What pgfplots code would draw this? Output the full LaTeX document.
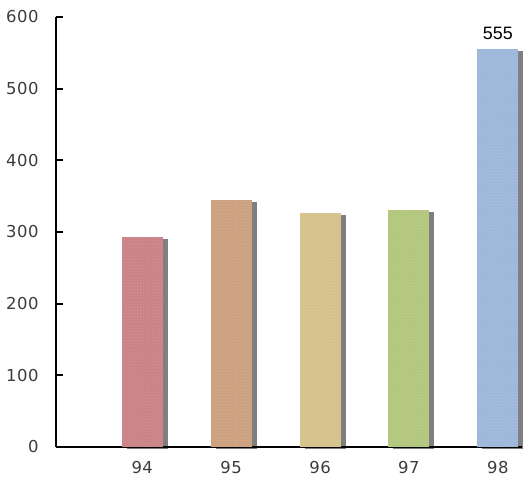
\documentclass[border=0pt]{standalone}
\usepackage{fontspec}
\setmainfont{Liberation Sans}
\newfontfamily\tickfont[LetterSpace=3]{DejaVu Sans}
\usepackage{pgfplots}
\pgfplotsset{compat=1.18}
\usetikzlibrary{shadows,patterns}
\definecolor{c94}{RGB}{202,130,134}
\definecolor{c95}{RGB}{204,160,126}
\definecolor{c96}{RGB}{214,193,138}
\definecolor{c97}{RGB}{178,199,124}
\definecolor{c98}{RGB}{156,183,218}
\definecolor{tl}{RGB}{60,60,60}
\begin{document}
\begin{tikzpicture}
\begin{axis}[
  scale only axis,
  width=466bp, height=430bp,
  xmin=93.03, xmax=98.27,
  ymin=0, ymax=600,
  ytick={0,100,...,600},
  xtick={94,95,96,97,98},
  axis lines=left,
  axis line style={-, line width=2.4pt, black},
  ytick style={line width=2pt, black},
  xtick style={draw=none},
  major tick length=7bp,
  tick align=inside,
  ybar, bar width=41bp, bar shift=0pt,
  clip=false,
  ticklabel style={font=\tickfont\fontsize{16.5}{18}\selectfont, text=tl},
  yticklabel style={xshift=-14bp},
  xticklabel style={yshift=-4bp},
  /pgf/number format/assume math mode=true,
  /pgf/number format/1000 sep={},
  every axis plot/.append style={draw=none,
    drop shadow={shadow xshift=5bp, shadow yshift=-2bp, fill=black, opacity=0.5},
    postaction={pattern=crosshatch dots, pattern color=white, fill opacity=0.2}},
]
\addplot[fill=c94] coordinates {(94,293)};
\addplot[fill=c95] coordinates {(95,345)};
\addplot[fill=c96] coordinates {(96,326)};
\addplot[fill=c97] coordinates {(97,331)};
\addplot[fill=c98, nodes near coords, every node near coord/.append style={font=\fontsize{18}{20}\selectfont, text=black, yshift=6bp}] coordinates {(98,555)};
\path[draw=none] (axis cs:92.40,-51.6) rectangle (axis cs:98.28,623.7);
\end{axis}
\end{tikzpicture}
\end{document}
